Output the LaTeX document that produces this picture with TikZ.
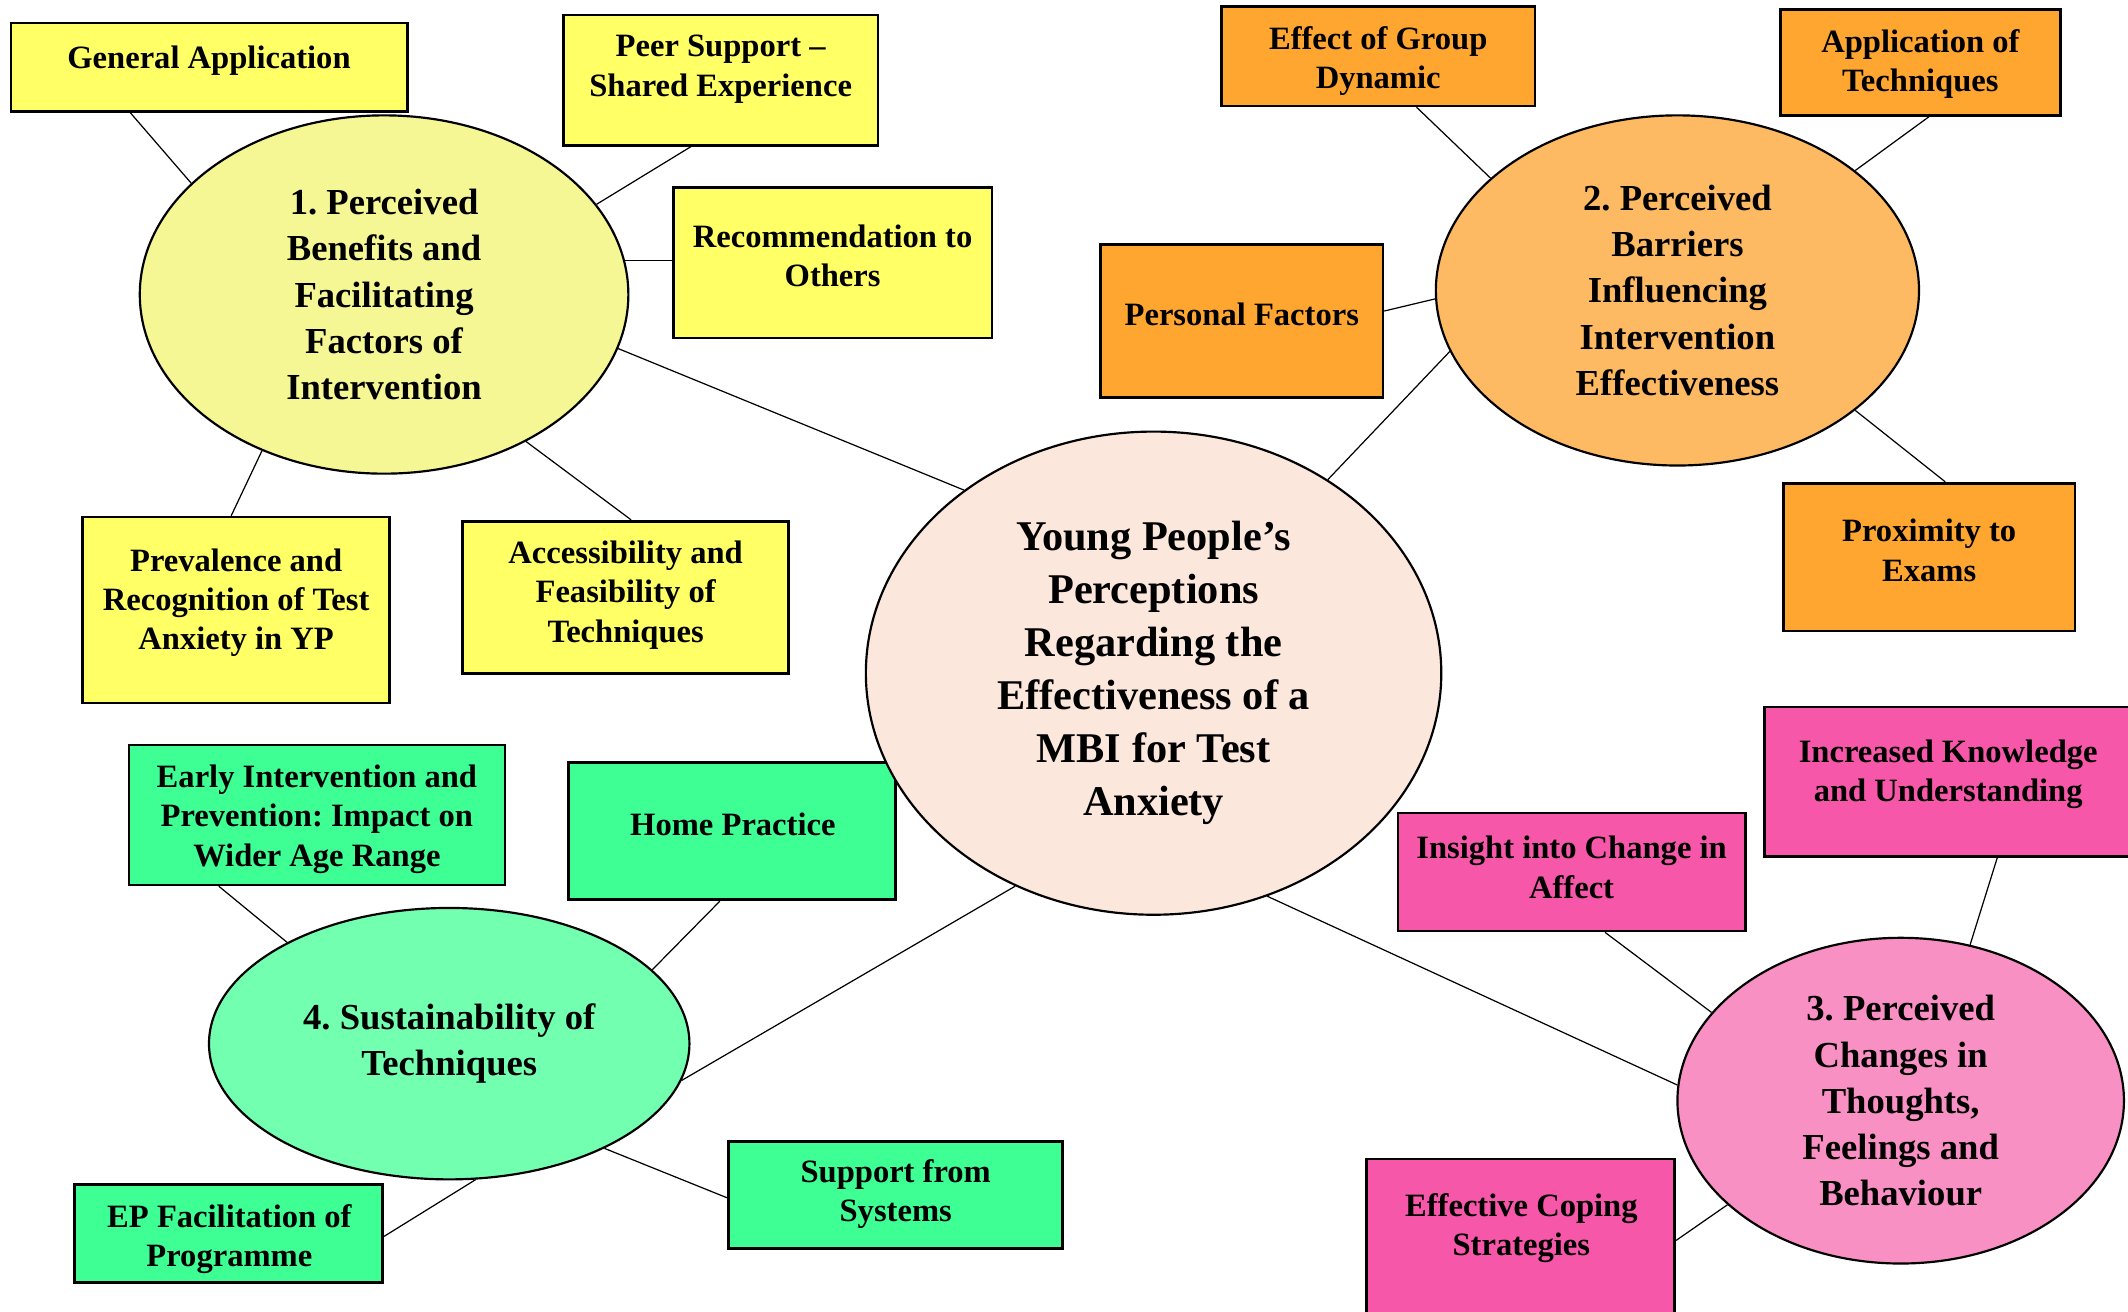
\documentclass[tikz,border=0pt]{standalone}
\usepackage{fontspec}
\setmainfont{Liberation Serif}
\usetikzlibrary{shapes.geometric}
\definecolor{yBox}{RGB}{255,255,102}
\definecolor{yEll}{RGB}{245,246,148}
\definecolor{oBox}{RGB}{255,166,48}
\definecolor{oEll}{RGB}{253,186,99}
\definecolor{cEll}{RGB}{251,231,220}
\definecolor{pBox}{RGB}{247,87,168}
\definecolor{pEll}{RGB}{249,144,196}
\definecolor{gBox}{RGB}{61,255,148}
\definecolor{gEll}{RGB}{115,255,176}
\frenchspacing
\begin{document}
\begin{tikzpicture}[x=0.5pt,y=-0.5pt,
  boxshape/.style={draw=black, line width=1pt, inner sep=0pt},
  btext/.style={font=\fontsize{12}{14.5}\selectfont\bfseries, align=center, inner sep=0pt},
  ell/.style={ellipse, draw=black, line width=0.8pt, inner sep=0pt, align=center,
              font=\fontsize{13.5}{17}\selectfont\bfseries},
  link/.style={draw=black, line width=0.45pt}]
\useasboundingbox (0,0) rectangle (1568,966);

% ---------- yellow boxes ----------
\node[boxshape, fill=yBox, minimum width=146pt, minimum height=32.5pt] (gen) at (154,49.5) {};
\node[btext] (gent) at (154,44.5) {General Application};
\node[boxshape, fill=yBox, minimum width=116pt, minimum height=48pt] (peer) at (531,59) {};
\node[btext] (peert) at (531,51) {Peer Support --\\Shared Experience};
\node[boxshape, fill=yBox, minimum width=117.5pt, minimum height=55.5pt] (rec) at (613.5,193.5) {};
\node[btext] (rect) at (613.5,188.5) {Recommendation to\\Others};
\node[boxshape, fill=yBox, minimum width=113pt, minimum height=68.5pt] (prev) at (174,449.5) {};
\node[btext] (prevt) at (174,444) {Prevalence and\\Recognition of Test\\Anxiety in YP};
\node[boxshape, fill=yBox, minimum width=120pt, minimum height=56pt] (acc) at (461,440) {};
\node[btext] (acct) at (461,438.5) {Accessibility and\\Feasibility of\\Techniques};

% ---------- orange boxes ----------
\node[boxshape, fill=oBox, minimum width=115.5pt, minimum height=36.5pt] (eff) at (1015.5,41.5) {};
\node[btext] (efft) at (1015.5,45) {Effect of Group\\Dynamic};
\node[boxshape, fill=oBox, minimum width=103pt, minimum height=39pt] (app) at (1415,46) {};
\node[btext] (appt) at (1415,47) {Application of\\Techniques};
\node[boxshape, fill=oBox, minimum width=104pt, minimum height=56.5pt] (pers) at (915,236.5) {};
\node[btext] (perst) at (915,231.5) {Personal Factors};
\node[boxshape, fill=oBox, minimum width=107.5pt, minimum height=54.5pt] (prox) at (1421.5,410.5) {};
\node[btext] (proxt) at (1421.5,405.5) {Proximity to\\Exams};

% ---------- pink boxes ----------
\node[boxshape, fill=pBox, minimum width=138pt, minimum height=55pt] (inc) at (1438,576) {};
\node[btext] (inct) at (1435.5,570.5) {Increased Knowledge\\and Understanding};
\node[boxshape, fill=pBox, minimum width=128pt, minimum height=43.5pt] (ins) at (1158,642.5) {};
\node[btext] (inst) at (1158,639) {Insight into Change in\\Affect};
\node[boxshape, fill=pBox, minimum width=113.5pt, minimum height=58pt] (cop) at (1120.5,912) {};
\node[btext] (copt) at (1121,905) {Effective Coping\\Strategies};

% ---------- green boxes ----------
\node[boxshape, fill=gBox, minimum width=138.5pt, minimum height=51.5pt] (early) at (233.5,600.5) {};
\node[btext] (earlyt) at (233.5,603.5) {Early Intervention and\\Prevention: Impact on\\Wider Age Range};
\node[boxshape, fill=gBox, minimum width=120.5pt, minimum height=50.5pt] (home) at (539.5,612.5) {};
\node[btext] (homet) at (540,607.5) {Home Practice};
\node[boxshape, fill=gBox, minimum width=113.5pt, minimum height=36pt] (ep) at (168.5,909) {};
\node[btext] (ept) at (169,913) {EP Facilitation of\\Programme};
\node[boxshape, fill=gBox, minimum width=123pt, minimum height=39.5pt] (sup) at (660,880.5) {};
\node[btext] (supt) at (660,880) {Support from\\Systems};

% ---------- ellipses ----------
\node[ell, fill=yEll, minimum width=180pt, minimum height=132pt] (e1) at (283,217)
  {1. Perceived\\Benefits and\\Facilitating\\Factors of\\Intervention};
\node[ell, fill=oEll, minimum width=178pt, minimum height=129pt] (e2) at (1236,214)
  {2. Perceived\\Barriers\\Influencing\\Intervention\\Effectiveness};
\node[ell, fill=pEll, minimum width=164.5pt, minimum height=120pt] (e3) at (1400.5,811)
  {3. Perceived\\Changes in\\Thoughts,\\Feelings and\\Behaviour};
\node[ell, fill=gEll, minimum width=177pt, minimum height=100pt] (e4) at (331,769)
  {4. Sustainability of\\Techniques};
\node[ell, fill=cEll, minimum width=212pt, minimum height=178pt,
      font=\fontsize{15.6}{19.5}\selectfont\bfseries] (c) at (850,496)
  {Young People’s\\Perceptions\\Regarding the\\Effectiveness of a\\MBI for Test\\Anxiety};

% ---------- connectors ----------
\path[link] (gen.210) -- (e1.150.8);
\path[link] (peer.246) -- (e1.23.6);
\path[link] (e1.8) -- (e1.8 -| rec.west);
\path[link] (prev.93) -- (e1.232.4);
\path[link] (acc.86) -- (e1.314.7);
\path[link] (e1.347.6) -- (c.136.7);

\path[link] (eff.307) -- (e2.149.2);
\path[link] (app.279) -- (e2.34.8);
\path[link] (pers.4.1) -- (e2.182);
\path[link] (prox.78.1) -- (e2.326.9);
\path[link] (e2.195.7) -- (c.48.6);

\path[link] (c.237.1) -- (e4.351.5);
\path[link] (early.216.1) -- (e4.148.1);
\path[link] (home.260.4) -- (e4.20.9);
\path[link] (ep.359) -- (e4.281.7);
\path[link] (sup.181.6) -- (e4.326.1);

\path[link] (c.297.3) -- (e3.176.5);
\path[link] (ins.299.9) -- (e3.155.5);
\path[link] (inc.301.7) -- (e3.66.2);
\path[link] (cop.359) -- (e3.211);
\end{tikzpicture}
\end{document}
